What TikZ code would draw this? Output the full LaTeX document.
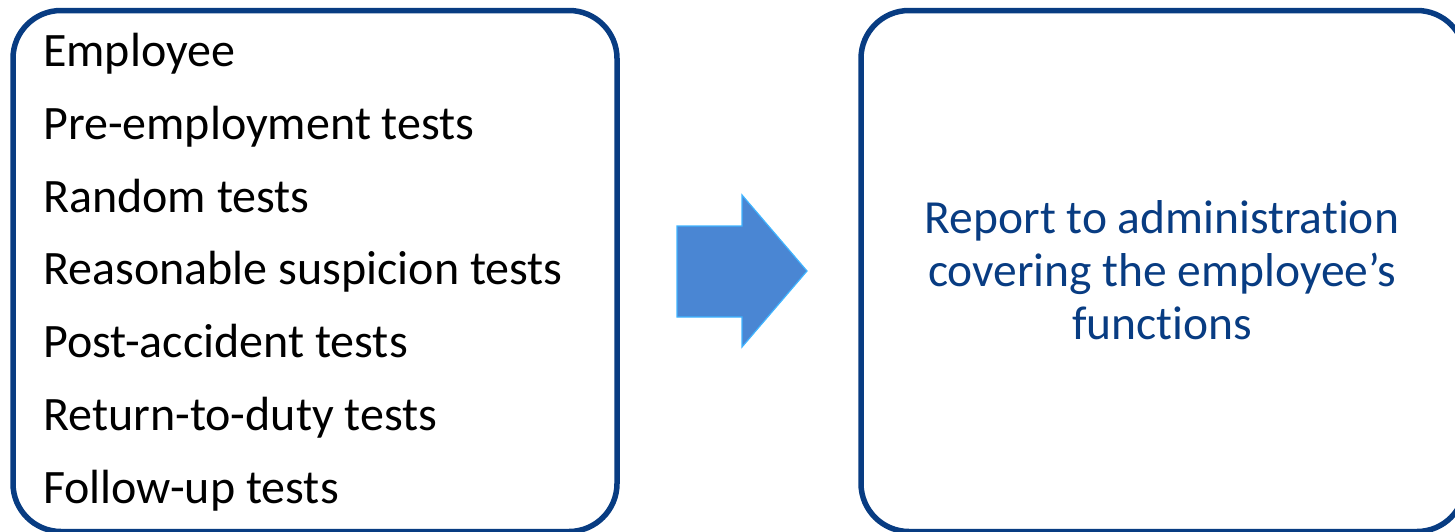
\documentclass[tikz,border=0pt]{standalone}
\usepackage{fontspec}
\setmainfont[Ligatures=NoCommon]{Carlito}
\definecolor{frameblue}{HTML}{083C82}
\definecolor{arrowfill}{HTML}{4A86D3}
\definecolor{arrowedge}{HTML}{40B4FF}
\begin{document}
\begin{tikzpicture}[x=1pt,y=-1pt,
  panel/.style={draw=frameblue, line width=5.5pt, rounded corners=48pt,
    inner sep=0pt, minimum width=604pt, minimum height=521pt},
  item/.style={anchor=base west, inner sep=0pt, font=\fontsize{48}{58}\selectfont},
  report/.style={align=center, text=frameblue, inner sep=0pt,
    font=\fontsize{47.5}{53}\selectfont}]
  \useasboundingbox (0,0) rectangle (1455,531);
  \clip (0,0) rectangle (1455,531);
  % the two panels
  \node[panel] (left) at (315,271) {};
  \node[panel] (right) at (1163,271) {};
  % list of test types
  \node[item] (l1) at (43,66) {Employee};
  \node[item] (l2) at (43,139) {Pre-employment tests};
  \node[item] (l3) at (43,212) {Random tests};
  \node[item] (l4) at (43,284) {Reasonable suspicion tests};
  \node[item] (l5) at (43,357) {Post-accident tests};
  \node[item] (l6) at (43,430) {Return-to-duty tests};
  \node[item] (l7) at (43,503) {Follow-up tests};
  % block arrow between the panels
  \filldraw[fill=arrowfill, draw=arrowedge, line width=1.2pt]
    (677,226) -- (742,226) -- (742,195) -- (807,271) -- (742,347)
    -- (742,317) -- (677,317) -- cycle;
  % outcome text
  \node[report] (out) at (1162,270)
    {Report to administration\\covering the employee’s\\functions};
\end{tikzpicture}
\end{document}
